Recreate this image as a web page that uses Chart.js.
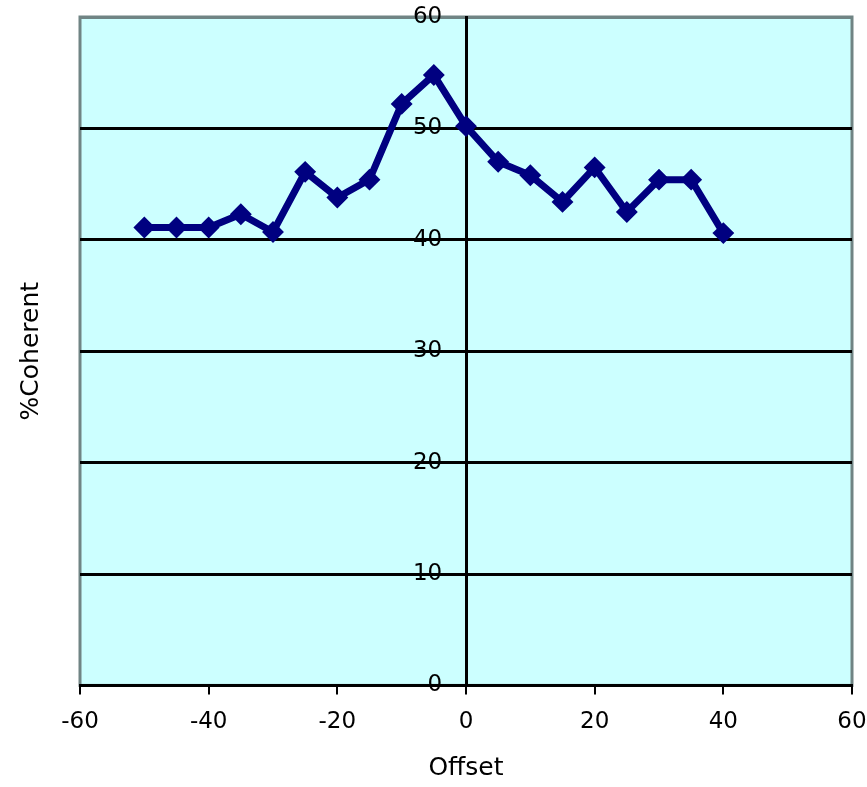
<!DOCTYPE html>
<html>
<head>
<meta charset="utf-8">
<script src="https://cdn.jsdelivr.net/npm/chart.js@4/dist/chart.umd.min.js"></script>
<style>
  html, body { margin: 0; padding: 0; background: #ffffff; }
  #wrap { width: 867px; height: 787px; position: relative; }
</style>
</head>
<body>
<div id="wrap"><canvas id="c"></canvas></div>
<script>
// Offset values and the percentage of coherent responses at each offset
const offsets  = [-50, -45, -40, -35, -30, -25, -20, -15, -10, -5, 0, 5, 10, 15, 20, 25, 30, 35, 40];
const coherent = [41.1, 41.1, 41.1, 42.3, 40.7, 46.1, 43.8, 45.4, 52.2, 54.8, 50.2, 47.0, 45.8, 43.4, 46.5, 42.5, 45.4, 45.4, 40.6];
const xTicks = [-60, -40, -20, 0, 20, 40, 60];
const yTicks = [0, 10, 20, 30, 40, 50, 60];

const points = offsets.map((x, i) => ({ x: x, y: coherent[i] }));
const FONT = "'DejaVu Sans', sans-serif";
const tickList = list => axis => { axis.ticks = list.map(v => ({ value: v })); };

// Pale cyan plot area with a grey frame
const plotArea = {
  id: 'plotArea',
  beforeDraw(chart) {
    const { ctx, chartArea: a } = chart;
    ctx.save();
    ctx.fillStyle = '#CCFFFF';
    ctx.fillRect(a.left, a.top, a.right - a.left, a.bottom - a.top);
    ctx.strokeStyle = '#708484';
    ctx.lineWidth = 3;
    ctx.strokeRect(a.left, a.top, a.right - a.left, a.bottom - a.top);
    ctx.restore();
  }
};

new Chart(document.getElementById('c'), {
  type: 'scatter',
  data: {
    datasets: [{
      data: points,
      showLine: true,
      borderColor: '#000080',
      backgroundColor: '#000080',
      borderWidth: 7,
      pointStyle: 'rectRot',
      pointRadius: 6,
      pointHoverRadius: 6,
      tension: 0
    }]
  },
  options: {
    responsive: true,
    maintainAspectRatio: false,
    animation: false,
    layout: { padding: { left: 12, right: 0, top: 17, bottom: 4 } },
    plugins: { legend: { display: false }, tooltip: { enabled: false } },
    scales: {
      x: {
        type: 'linear',
        min: -60, max: 60,
        afterBuildTicks: tickList(xTicks),
        // keep only half of the last label's width as right margin
        afterFit(axis) { axis.paddingRight = 15; },
        grid: { drawOnChartArea: false, drawTicks: true, tickLength: 9, color: '#000000', lineWidth: 2 },
        border: { display: true, color: '#000000', width: 3 },
        ticks: { color: '#000000', font: { family: FONT, size: 23 }, padding: 14 },
        title: { display: true, text: 'Offset', color: '#000000', font: { family: FONT, size: 25 }, padding: { top: 3, bottom: 0 } }
      },
      // the vertical axis line through x = 0 and the horizontal gridlines
      y: {
        type: 'linear',
        position: { x: 0 },
        min: 0, max: 60,
        afterBuildTicks: tickList(yTicks),
        grid: {
          drawTicks: false,
          color: ctx => (ctx.tick && ctx.tick.value === 60) ? '#708484' : '#000000',
          lineWidth: 3
        },
        border: { display: true, color: '#000000', width: 3 },
        ticks: { display: false }
      },
      // value labels, set a little to the left of the vertical axis
      yLabels: {
        type: 'linear',
        position: { x: -3.7 },
        min: 0, max: 60,
        afterBuildTicks: tickList(yTicks),
        grid: { display: false },
        border: { display: false },
        ticks: { color: '#000000', font: { family: FONT, size: 23 } }
      },
      yTitle: {
        type: 'linear',
        position: 'left',
        min: 0, max: 60,
        grid: { display: false },
        border: { display: false },
        ticks: { display: false },
        title: { display: true, text: '%Coherent', color: '#000000', font: { family: FONT, size: 25 }, padding: { top: 4, bottom: 26 } }
      }
    }
  },
  plugins: [plotArea]
});
</script>
</body>
</html>
